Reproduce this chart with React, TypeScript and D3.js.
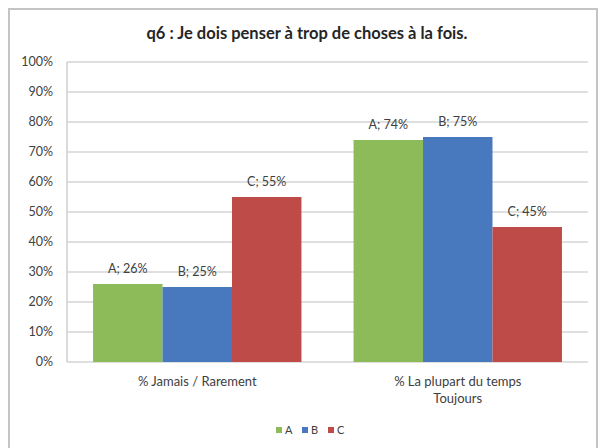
import React from "react";
import * as d3 from "d3";

const title = "q6 : Je dois penser à trop de choses à la fois.";
const categories = ["% Jamais / Rarement", "% La plupart du temps\nToujours"];
const seriesNames = ["A", "B", "C"];
const valuesA = [26, 74];
const valuesB = [25, 75];
const valuesC = [55, 45];
const yTicks = [0, 10, 20, 30, 40, 50, 60, 70, 80, 90, 100];
const colors = ["#8DBB5A", "#4878BE", "#BE4B48"];

const W = 601;
const H = 448;
const plot = { left: 67, right: 588, top: 62, bottom: 362 };
const FONT = "Lato, 'Open Sans', sans-serif";
const TXT = "#404040";

export default function App() {
  const series = [valuesA, valuesB, valuesC];
  const x0 = d3
    .scaleBand<string>()
    .domain(categories)
    .range([plot.left, plot.right])
    .paddingInner(0.2)
    .paddingOuter(0.1);
  const x1 = d3
    .scaleBand<string>()
    .domain(seriesNames)
    .range([0, x0.bandwidth()])
    .padding(0);
  const y = d3.scaleLinear().domain([0, 100]).range([plot.bottom, plot.top]);

  const legendItemW = 26;
  const legendStart = 276;

  return (
    <div style={{ position: "fixed", left: 0, top: 0 }}>
      <svg width={W} height={H} style={{ display: "block", background: "#fff" }}>
        <rect x={9} y={9} width={588} height={450} fill="#fff" stroke="#c4c4c4" strokeWidth={2} />
        <text
          x={307}
          y={39}
          textAnchor="middle"
          fontFamily={FONT}
          fontWeight="bold"
          fontSize={16.5}
          fill="#262626"
        >
          {title}
        </text>
        {yTicks.map((t) => (
          <g key={t}>
            <line
              x1={plot.left}
              x2={plot.right}
              y1={y(t)}
              y2={y(t)}
              stroke="#d4d4d4"
              strokeWidth={1.5}
            />
            <text
              x={53}
              y={y(t)}
              dy="0.35em"
              textAnchor="end"
              fontFamily={FONT}
              fontSize={12.5}
              fill={TXT}
            >
              {t + "%"}
            </text>
          </g>
        ))}
        <line x1={plot.left} x2={plot.left} y1={plot.top} y2={plot.bottom} stroke="#cfcfcf" strokeWidth={1.5} />
        {categories.map((c, ci) => (
          <g key={c} transform={`translate(${x0(c)},0)`}>
            {seriesNames.map((s, si) => {
              const v = series[si][ci];
              const bx = x1(s)!;
              return (
                <g key={s}>
                  <rect
                    x={bx}
                    y={y(v)}
                    width={x1.bandwidth()}
                    height={plot.bottom - y(v)}
                    fill={colors[si]}
                  />
                  <text
                    x={bx + x1.bandwidth() / 2}
                    y={y(v) - 11}
                    textAnchor="middle"
                    fontFamily={FONT}
                    fontSize={12.5}
                    fill={TXT}
                  >
                    {`${s}; ${v}%`}
                  </text>
                </g>
              );
            })}
          </g>
        ))}
        {categories.map((c) => {
          const lines = c.split("\n");
          const cx = x0(c)! + x0.bandwidth() / 2;
          return (
            <text key={c} textAnchor="middle" fontFamily={FONT} fontSize={13} fill={TXT}>
              {lines.map((l, i) => (
                <tspan key={i} x={cx} y={386 + i * 17}>
                  {l}
                </tspan>
              ))}
            </text>
          );
        })}
        {seriesNames.map((s, i) => (
          <g key={s} transform={`translate(${legendStart + i * legendItemW},430)`}>
            <rect x={0} y={-3} width={6} height={6} fill={colors[i]} />
            <text x={9} y={0} dy="0.35em" fontFamily={FONT} fontSize={11} fill={TXT}>
              {s}
            </text>
          </g>
        ))}
      </svg>
    </div>
  );
}
